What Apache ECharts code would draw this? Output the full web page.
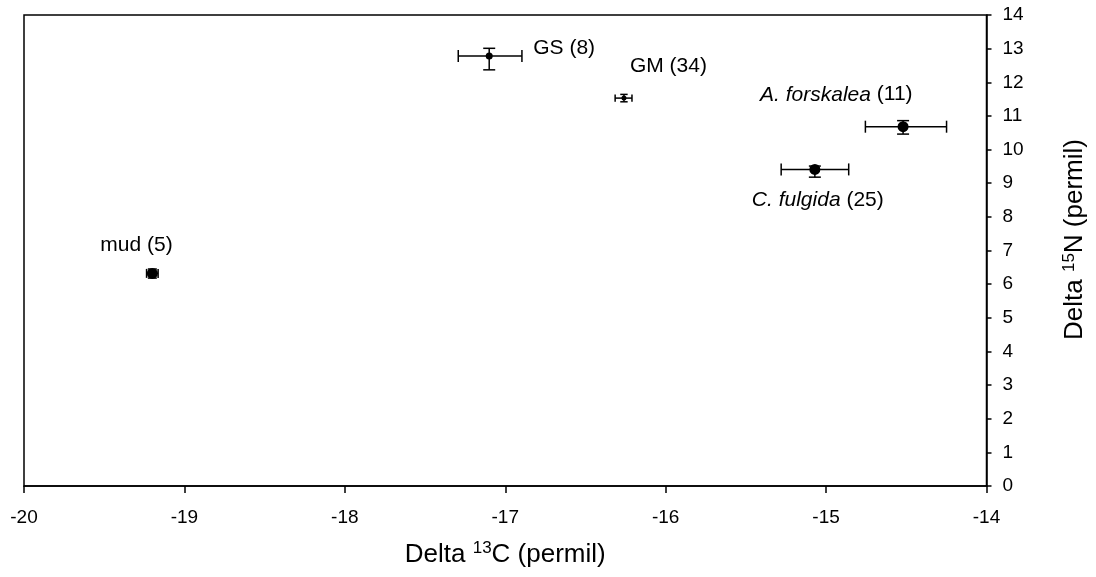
<!DOCTYPE html>
<html>
<head>
<meta charset="utf-8">
<script src="https://cdn.jsdelivr.net/npm/echarts@6/dist/echarts.min.js"></script>
<style>
html,body{margin:0;padding:0;background:#fff;}
#chart{width:1096px;height:577px;}
</style>
</head>
<body>
<div id="chart"></div>
<script>
// ---- data ----
var GROUPS = ['mud', 'GS', 'GM', 'A. forskalea', 'C. fulgida'];
var COUNTS = [5, 8, 34, 11, 25];
var ITALIC = [false, false, false, true, true];
var D13C = [-19.20, -17.10, -16.26, -14.52, -15.07];
var D13C_LOW = [-19.236, -17.293, -16.315, -14.755, -15.280];
var D13C_HIGH = [-19.164, -16.896, -16.210, -14.249, -14.859];
var D15N = [6.32, 12.78, 11.53, 10.68, 9.41];
var D15N_LOW = [6.18, 12.37, 11.42, 10.46, 9.18];
var D15N_HIGH = [6.45, 13.01, 11.64, 10.86, 9.51];
var X_TICKS = [-20, -19, -18, -17, -16, -15, -14];
var Y_TICKS = [0, 1, 2, 3, 4, 5, 6, 7, 8, 9, 10, 11, 12, 13, 14];

// ---- layout / style (not data) ----
var LABEL_OFFSET = [[-52, -28], [44, -8], [6, -32], [-143, -32], [-63, 31]];
var MARKER_R = [5.5, 3.5, 2.5, 5.5, 5.5];
var CAP = [4.5, 6, 3.7, 6, 6];
var FONT = '"Liberation Sans", Arial, sans-serif';

var data = GROUPS.map(function (g, i) {
  return [D13C[i], D15N[i], D13C_LOW[i], D13C_HIGH[i], D15N_LOW[i], D15N_HIGH[i]];
});

function renderItem(params, api) {
  var i = params.dataIndex;
  var p = api.coord([api.value(0), api.value(1)]);
  var xl = api.coord([api.value(2), api.value(1)]);
  var xh = api.coord([api.value(3), api.value(1)]);
  var yl = api.coord([api.value(0), api.value(4)]);
  var yh = api.coord([api.value(0), api.value(5)]);
  var c = CAP[i];
  var ls = {stroke: '#000', lineWidth: 1.5};
  var txt = ITALIC[i] ? '{it|' + GROUPS[i] + '} (' + COUNTS[i] + ')' : GROUPS[i] + ' (' + COUNTS[i] + ')';
  return {
    type: 'group',
    children: [
      {type: 'line', shape: {x1: xl[0], y1: xl[1], x2: xh[0], y2: xh[1]}, style: ls},
      {type: 'line', shape: {x1: xl[0], y1: xl[1] - c, x2: xl[0], y2: xl[1] + c}, style: ls},
      {type: 'line', shape: {x1: xh[0], y1: xh[1] - c, x2: xh[0], y2: xh[1] + c}, style: ls},
      {type: 'line', shape: {x1: yl[0], y1: yl[1], x2: yh[0], y2: yh[1]}, style: ls},
      {type: 'line', shape: {x1: yl[0] - c, y1: yl[1], x2: yl[0] + c, y2: yl[1]}, style: ls},
      {type: 'line', shape: {x1: yh[0] - c, y1: yh[1], x2: yh[0] + c, y2: yh[1]}, style: ls},
      {type: 'circle', shape: {cx: p[0], cy: p[1], r: MARKER_R[i]}, style: {fill: '#000'}},
      {type: 'text', x: p[0] + LABEL_OFFSET[i][0], y: p[1] + LABEL_OFFSET[i][1],
        style: {text: txt, fill: '#000', fontSize: 21, fontFamily: FONT,
          align: 'left', verticalAlign: 'middle',
          rich: {it: {fontStyle: 'italic', fontSize: 21, fontFamily: FONT, fill: '#000'}}}}
    ]
  };
}

var chart = echarts.init(document.getElementById('chart'), null, {renderer: 'canvas'});
chart.setOption({
  backgroundColor: '#fff',
  animation: false,
  grid: {left: 24, right: 108, top: 15, bottom: 91, show: true, borderColor: '#000', borderWidth: 1.5},
  xAxis: {
    type: 'value', min: X_TICKS[0], max: X_TICKS[X_TICKS.length - 1], interval: 1,
    position: 'bottom',
    axisLine: {show: true, lineStyle: {color: '#000', width: 1.5}},
    axisTick: {show: true, length: 7, lineStyle: {color: '#000', width: 1.5}},
    axisLabel: {color: '#000', fontSize: 19, fontFamily: FONT, margin: 22},
    splitLine: {show: false},
    name: 'Delta {sup|13}C (permil)', nameLocation: 'middle', nameGap: 54,
    nameTextStyle: {color: '#000', fontSize: 26, fontFamily: FONT,
      rich: {sup: {fontSize: 17, fontFamily: FONT, color: '#000', verticalAlign: 'top', padding: [0, 0, 12, 0]}}}
  },
  yAxis: {
    type: 'value', min: Y_TICKS[0], max: Y_TICKS[Y_TICKS.length - 1], interval: 1,
    position: 'right',
    axisLine: {show: true, lineStyle: {color: '#000', width: 1.5}},
    axisTick: {show: true, length: 5, lineStyle: {color: '#000', width: 1.5}},
    axisLabel: {color: '#000', fontSize: 19, fontFamily: FONT, margin: 16},
    splitLine: {show: false},
    name: 'Delta {sup|15}N (permil)', nameLocation: 'middle', nameGap: 74, nameRotate: 90,
    nameTextStyle: {color: '#000', fontSize: 26, fontFamily: FONT, padding: [0, 0, 0, 22],
      rich: {sup: {fontSize: 17, fontFamily: FONT, color: '#000', verticalAlign: 'top', padding: [0, 0, 12, 0]}}}
  },
  series: [{
    type: 'custom',
    renderItem: renderItem,
    data: data,
    encode: {x: 0, y: 1},
    clip: false
  }]
});
</script>
</body>
</html>
